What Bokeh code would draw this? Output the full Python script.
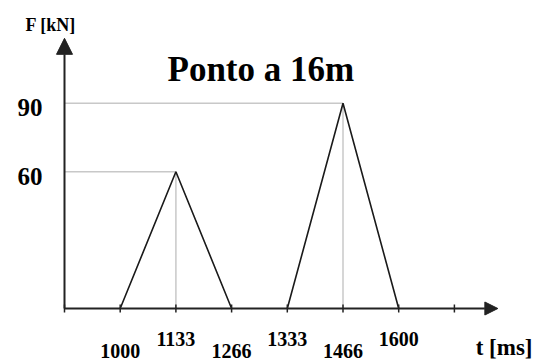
from bokeh.plotting import figure
from bokeh.models import Arrow, NormalHead, Label, ColumnDataSource, Range1d
from bokeh.core.properties import value
from bokeh.embed import file_html
from bokeh.resources import INLINE

# ---- data ----
times = [1000, 1133, 1266, 1333, 1466, 1600]   # time instants [ms]
forces = [0, 60, 0, 0, 90, 0]                  # force at each instant [kN]
y_ticks = [60, 90]
title_text = "Ponto a  16m"
x_title = "t [ms]"
y_title = "F [kN]"

FONT_NAME = "Liberation Serif"
FONT = value(FONT_NAME)
W, H = 541, 362
PX_X = 55.7      # pixels per slot (schematic, evenly spaced time axis)
PX_Y = 2.28      # pixels per kN
X0, Y0 = 64, 308  # origin position inside the canvas

p = figure(width=W, height=H, output_backend="svg", toolbar_location=None,
           x_axis_location=None, y_axis_location=None, min_border=0,
           x_range=Range1d(-X0 / PX_X, (W - X0) / PX_X),
           y_range=Range1d(-(H - Y0) / PX_Y, Y0 / PX_Y))
p.grid.visible = False
p.outline_line_color = None
p.background_fill_color = "white"
p.border_fill_color = "white"

# schematic slot positions (times drawn evenly spaced as in the sketch)
slots = list(range(1, len(times) + 1))
n_slots = len(slots) + 1

# gray guide lines to the peaks
peak_x = [s for s, f in zip(slots, forces) if f > 0]
peak_y = [f for f in forces if f > 0]
guide_col = "#c8c8c8"
p.segment(x0=[0] * len(peak_x), y0=peak_y, x1=peak_x, y1=peak_y,
          line_color=guide_col, line_width=1.5)
p.segment(x0=peak_x, y0=[0] * len(peak_x), x1=peak_x, y1=peak_y,
          line_color=guide_col, line_width=1.5)

# triangular pulses
pulses_x, pulses_y = [], []
cur_x, cur_y = [], []
for s, f in zip(slots, forces):
    cur_x.append(s)
    cur_y.append(f)
    if f == 0 and len(cur_x) > 1:
        pulses_x.append(cur_x)
        pulses_y.append(cur_y)
        cur_x, cur_y = [], []
p.multi_line(xs=pulses_x, ys=pulses_y, line_color="#1a1a1a", line_width=1.6)

# axes with arrows
axis_col = "#222222"
p.add_layout(Arrow(end=NormalHead(size=13, fill_color=axis_col, line_color=axis_col),
                   x_start=0, y_start=0, x_end=n_slots + 0.78, y_end=0,
                   line_color=axis_col, line_width=2))
p.add_layout(Arrow(end=NormalHead(size=16, fill_color=axis_col, line_color=axis_col),
                   x_start=0, y_start=0, x_end=0, y_end=118.5,
                   line_color=axis_col, line_width=2))

# tick marks on the time axis
p.scatter(x=list(range(0, n_slots + 1)), y=[0] * (n_slots + 1), marker="dash",
          angle=1.5708, size=8, line_color=axis_col, line_width=1.5)

# time tick labels, staggered
src = ColumnDataSource(dict(
    x=slots, y=[0] * len(slots), text=[str(t) for t in times],
    yo=[42 if i % 2 == 0 else 30 for i in range(len(times))]))
p.text(x="x", y="y", text="text", source=src, y_offset="yo",
       text_align="center", text_baseline="middle",
       text_font=FONT, text_font_style="bold", text_font_size="20px",
       text_color="black")

# force tick labels
p.text(x=[0] * len(y_ticks), y=y_ticks, text=[str(v) for v in y_ticks],
       x_offset=-22, y_offset=4.5, text_align="right", text_baseline="middle",
       text_font=FONT, text_font_style="bold", text_font_size="25px",
       text_color="black")

# titles
p.add_layout(Label(x=167, y=H - 69, x_units="screen", y_units="screen",
                   text=title_text, text_font=FONT_NAME, text_font_style="bold",
                   text_font_size="35px", text_color="black",
                   text_baseline="alphabetic"))
p.add_layout(Label(x=25, y=H - 24, x_units="screen", y_units="screen",
                   text=y_title, text_font=FONT_NAME, text_font_style="bold",
                   text_font_size="18px", text_color="black",
                   text_baseline="alphabetic"))
p.add_layout(Label(x=532, y=H - 347, x_units="screen", y_units="screen",
                   text=x_title, text_font=FONT_NAME, text_font_style="bold",
                   text_font_size="23px", text_color="black",
                   text_align="right", text_baseline="alphabetic"))

open("out.html", "w").write(file_html(p, INLINE))
